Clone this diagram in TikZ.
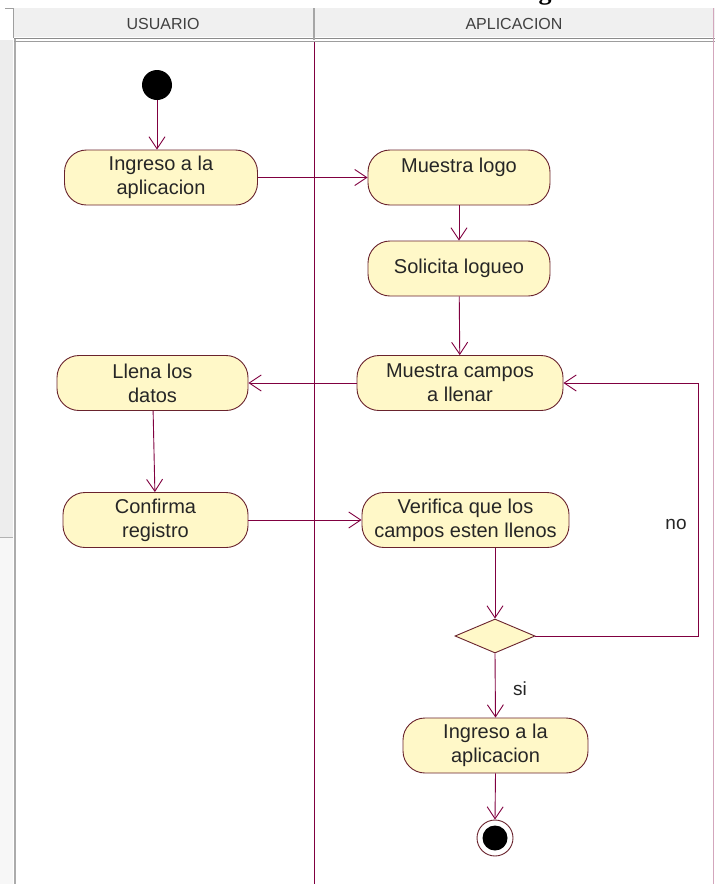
\documentclass[tikz,border=0pt]{standalone}
\usepackage{fontspec}
\setmainfont{Liberation Sans}
\newfontfamily\titlefont{Liberation Serif}
\usetikzlibrary{arrows.meta,shapes.geometric}
\definecolor{umlline}{RGB}{128,0,64}
\definecolor{umledge}{RGB}{105,35,45}
\definecolor{umlfill}{RGB}{255,248,200}
\definecolor{headfill}{RGB}{240,240,240}
\definecolor{headrule}{RGB}{140,140,140}

\begin{document}
\begin{tikzpicture}[x=1pt,y=-1pt,
  action/.style={draw=umledge, fill=umlfill, line width=0.9pt,
    rounded corners=22pt, minimum height=55pt, inner sep=0pt,
    align=center, font=\fontsize{20}{24}\selectfont, text=black!85},
  flow/.style={draw=umlline, line width=0.9pt,
    -{Straight Barb[length=12pt,width=16pt]}},
  lanetitle/.style={font=\fontsize{16}{18}\selectfont, text=black!75},
  guard/.style={font=\fontsize{19}{22}\selectfont, text=black!85}
]
\useasboundingbox (0,0) rectangle (715,884);
\fill[white] (0,0) rectangle (715,884);

% cut-off title above the swimlanes
\node[anchor=base, inner sep=0pt, font=\titlefont\bfseries\fontsize{26}{26}\selectfont] (title) at (545,-1) {g};

% swimlane frame
\fill[headfill] (14,8) rectangle (715,37);
\fill[gray!14] (0,40) rectangle (13,537);
\fill[gray!6] (0,537) rectangle (13,884);
\draw[gray!60, line width=0.8pt] (0,537) -- (13,537);
\draw[gray!75, line width=0.8pt] (5,8) -- (14,8);
\draw[gray!75, line width=0.8pt] (13.5,8) -- (13.5,38);
\draw[gray!65, line width=2.6pt] (15,38) -- (15,884);
\draw[headrule, line width=1.3pt] (14,38.5) -- (715,38.5);
\draw[headrule!85, line width=1.3pt] (14,41.5) -- (715,41.5);
\draw[gray!70, line width=2pt] (314,8) -- (314,40);
\draw[umlline, line width=0.9pt] (314,42) -- (314,884);
\draw[umlline!35, line width=0.8pt] (713,8) -- (713,884);

\node[lanetitle] (laneU) at (163,23.5) {USUARIO};
\node[lanetitle] (laneA) at (514,23.5) {APLICACION};

% activity nodes
\fill[black] (157,85) circle (15pt);
\coordinate (start) at (157,85);
\node[action, minimum width=193pt] (ingresoU) at (161,177.5) {Ingreso a la\\aplicacion};
\node[action, minimum width=182pt] (logo) at (459,177.5) {Muestra logo\\\mbox{}};
\node[action, minimum width=182pt] (logueo) at (459,268.5) {Solicita logueo};
\node[action, minimum width=206pt] (campos) at (460,383) {Muestra campos\\a llenar};
\node[action, minimum width=191pt] (llena) at (152.5,383) {Llena los\\datos};
\node[action, minimum width=185pt] (confirma) at (155.5,520) {Confirma\\registro};
\node[action, minimum width=207pt] (verifica) at (465.5,520) {Verifica que los\\campos esten llenos};
\node[diamond, draw=umledge, fill=umlfill, line width=0.9pt, minimum width=80pt,
  minimum height=34pt, inner sep=0pt, aspect=2.35] (dec) at (495,636) {};
\node[action, minimum width=185pt] (ingresoA) at (495.5,745.5) {Ingreso a la\\aplicacion};
\node[circle, draw=umledge, fill=white, line width=0.9pt, minimum size=36pt, inner sep=0pt] (fin) at (495,838) {};
\fill[black] (fin.center) circle (12.5pt);

% control flows
\draw[flow] (start) ++(0,15) -- (ingresoU.north -| start);
\draw[flow] (ingresoU.east) -- (logo.west);
\draw[flow] (logo) -- (logueo);
\draw[flow] (logueo) -- (campos);
\draw[flow] (campos.west) -- (llena.east);
\draw[flow] (llena) -- (confirma);
\draw[flow] (confirma.east) -- (verifica.west);
\draw[flow] (verifica.south -| dec.north) -- (dec.north);
\coordinate (loopB) at (698,636);
\coordinate (loopT) at (698,383);
\draw[flow] (dec.east) -- (loopB) -- (loopT) -- (campos.east);
\draw[flow] (dec.south) -- (ingresoA.north);
\draw[flow] (ingresoA.south) -- (fin.north);

% guards
\node[guard] (no) at (676,524) {no};
\node[guard] (si) at (520,689) {si};
\end{tikzpicture}
\end{document}
